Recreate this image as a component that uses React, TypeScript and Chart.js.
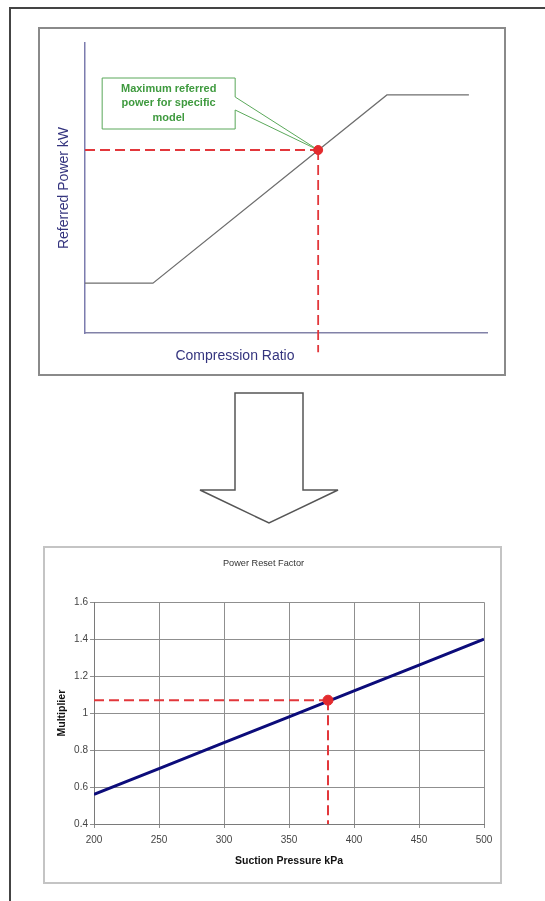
import React, { useEffect, useRef } from "react";
import { Chart, registerables } from "chart.js";
Chart.register(...registerables);

// ---------- Top (schematic) chart data ----------
const ratioX = [0, 1.69, 7.51, 9.55];
const referredPower = [1.72, 1.72, 8.21, 8.21];
const maxRatio = 5.8;
const maxPower = 6.31;
const topXRange = [0, 10];
const topYRange = [0, 10];
const dropBelowAxis = -0.66;
const calloutLines = ["Maximum referred", "power for specific", "model"];

// ---------- Bottom chart data ----------
const suctionKPa = [200, 250, 300, 350, 400, 450, 500];
const multiplier = [0.56, 0.7, 0.84, 0.98, 1.12, 1.26, 1.4];
const selectedKPa = 380;
const selectedMultiplier = 1.07;
const xTickValues = [200, 250, 300, 350, 400, 450, 500];
const yTickValues = [0.4, 0.6, 0.8, 1, 1.2, 1.4, 1.6];

const FONT = "'Liberation Sans', Arial, Helvetica, sans-serif";
const RED = "#e32b2e";
const RED_DASH = "#e2373b";

const calloutPlugin = {
  id: "callout",
  beforeDatasetsDraw(chart: any) {
    const pt = chart.getDatasetMeta(0).data[0];
    if (!pt) return;
    const { x, y } = pt;
    const ctx = chart.ctx;
    const left = x - 216, right = x - 83, top = y - 72, bottom = y - 21;
    const p1 = y - 53, p2 = y - 40;
    ctx.save();
    ctx.beginPath();
    ctx.moveTo(left, top);
    ctx.lineTo(right, top);
    ctx.lineTo(right, p1);
    ctx.lineTo(x, y);
    ctx.lineTo(right, p2);
    ctx.lineTo(right, bottom);
    ctx.lineTo(left, bottom);
    ctx.closePath();
    ctx.fillStyle = "#ffffff";
    ctx.fill();
    ctx.strokeStyle = "#5aa85a";
    ctx.lineWidth = 1;
    ctx.stroke();
    ctx.fillStyle = "#3f9a3f";
    ctx.font = `bold 11px ${FONT}`;
    ctx.textAlign = "center";
    ctx.textBaseline = "middle";
    const cx = (left + right) / 2;
    calloutLines.forEach((t, i) => ctx.fillText(t, cx, top + 10.5 + i * 14.5));
    ctx.restore();
  },
};

function TopChart() {
  const ref = useRef<HTMLCanvasElement>(null);
  useEffect(() => {
    const chart = new Chart(ref.current!, {
      type: "scatter",
      data: {
        datasets: [
          {
            data: [{ x: maxRatio, y: maxPower }],
            backgroundColor: RED,
            borderColor: RED,
            pointRadius: 4.5,
            showLine: false,
          },
          {
            data: ratioX.map((x, i) => ({ x, y: referredPower[i] })),
            borderColor: "#6e6e6e",
            borderWidth: 1.2,
            pointRadius: 0,
            showLine: true,
          },
          {
            data: [
              { x: topXRange[0], y: maxPower },
              { x: maxRatio, y: maxPower },
            ],
            borderColor: RED_DASH,
            borderWidth: 1.8,
            borderDash: [10, 5],
            pointRadius: 0,
            showLine: true,
          },
          {
            data: [
              { x: maxRatio, y: maxPower },
              { x: maxRatio, y: dropBelowAxis },
            ],
            borderColor: RED_DASH,
            borderWidth: 1.8,
            borderDash: [10, 5],
            pointRadius: 0,
            showLine: true,
            clip: false,
          } as any,
        ],
      },
      options: {
        responsive: false,
        animation: false,
        events: [],
        layout: { padding: { left: 0, top: 16, right: 19, bottom: 0 } },
        plugins: { legend: { display: false }, tooltip: { enabled: false } },
        scales: {
          x: {
            type: "linear",
            min: topXRange[0],
            max: topXRange[1],
            ticks: { display: false },
            grid: { display: false, drawTicks: false },
            border: { display: true, color: "#8282a8", width: 1.5 },
            afterFit: (s: any) => {
              s.height = 43;
            },
          },
          y: {
            type: "linear",
            min: topYRange[0],
            max: topYRange[1],
            ticks: { display: false },
            grid: { display: false, drawTicks: false },
            border: { display: true, color: "#7c7cae", width: 1.5 },
            title: {
              display: true,
              text: "Referred Power kW",
              color: "#34347e",
              font: { family: FONT, size: 14 },
              padding: { top: 17.6, bottom: 0 },
            },
            afterFit: (s: any) => {
              s.width = 47;
            },
          },
        },
      },
      plugins: [calloutPlugin],
    } as any);
    return () => chart.destroy();
  }, []);
  return <canvas ref={ref} width={468} height={349} style={{ position: "absolute", left: 38, top: 27 }} />;
}

function BottomChart() {
  const ref = useRef<HTMLCanvasElement>(null);
  useEffect(() => {
    const chart = new Chart(ref.current!, {
      type: "scatter",
      data: {
        datasets: [
          {
            data: [{ x: selectedKPa, y: selectedMultiplier }],
            backgroundColor: RED,
            borderColor: RED,
            pointRadius: 5,
            showLine: false,
          },
          {
            data: suctionKPa.map((x, i) => ({ x, y: multiplier[i] })),
            borderColor: "#0c0c7a",
            borderWidth: 3,
            pointRadius: 0,
            showLine: true,
          },
          {
            data: [
              { x: suctionKPa[0], y: selectedMultiplier },
              { x: selectedKPa, y: selectedMultiplier },
            ],
            borderColor: RED_DASH,
            borderWidth: 2,
            borderDash: [10, 5],
            pointRadius: 0,
            showLine: true,
          },
          {
            data: [
              { x: selectedKPa, y: selectedMultiplier },
              { x: selectedKPa, y: yTickValues[0] },
            ],
            borderColor: RED_DASH,
            borderWidth: 2,
            borderDash: [10, 5],
            pointRadius: 0,
            showLine: true,
          },
        ],
      },
      options: {
        responsive: false,
        animation: false,
        events: [],
        layout: { padding: { left: 0, top: 0, right: 18, bottom: 0 } },
        plugins: {
          legend: { display: false },
          tooltip: { enabled: false },
          title: {
            display: true,
            text: "Power Reset Factor",
            color: "#333333",
            font: { family: FONT, size: 9.2, weight: "normal" },
            padding: { top: 11.6, bottom: 33.6 },
          },
        },
        scales: {
          x: {
            type: "linear",
            min: xTickValues[0],
            max: xTickValues[xTickValues.length - 1],
            afterBuildTicks: (s: any) => {
              s.ticks = xTickValues.map((v) => ({ value: v }));
            },
            ticks: {
              color: "#444444",
              font: { family: FONT, size: 10 },
              padding: 6,
              maxRotation: 0,
              callback: (v: any) => String(v),
            },
            grid: { color: "#8f8f8f", lineWidth: 1, tickLength: 4, drawTicks: true },
            border: { display: true, color: "#7a7a7a", width: 1 },
            title: {
              display: true,
              text: "Suction Pressure kPa",
              color: "#111111",
              font: { family: FONT, size: 10.5, weight: "bold" },
              padding: { top: 0, bottom: 16.7 },
            },
            afterFit: (s: any) => {
              s.height = 60;
            },
          },
          y: {
            type: "linear",
            min: yTickValues[0],
            max: yTickValues[yTickValues.length - 1],
            afterBuildTicks: (s: any) => {
              s.ticks = yTickValues.map((v) => ({ value: v }));
            },
            ticks: {
              color: "#444444",
              font: { family: FONT, size: 10 },
              padding: 2,
              callback: (v: any) => String(v),
            },
            grid: { color: "#8f8f8f", lineWidth: 1, tickLength: 4, drawTicks: true },
            border: { display: true, color: "#7a7a7a", width: 1 },
            title: {
              display: true,
              text: "Multiplier",
              color: "#111111",
              font: { family: FONT, size: 10.5, weight: "bold" },
              padding: { top: 12.7, bottom: 0 },
            },
            afterFit: (s: any) => {
              s.width = 51;
            },
          },
        },
      },
    } as any);
    return () => chart.destroy();
  }, []);
  return <canvas ref={ref} width={459} height={338} style={{ position: "absolute", left: 43, top: 546 }} />;
}

export default function App() {
  return (
    <div
      style={{
        position: "absolute",
        left: 0,
        top: 0,
        width: 545,
        height: 901,
        background: "#ffffff",
        overflow: "hidden",
        fontFamily: FONT,
      }}
    >
      {/* outer frame */}
      <div
        style={{
          position: "absolute",
          left: 9,
          top: 7,
          width: 560,
          height: 920,
          borderLeft: "2px solid #444",
          borderTop: "2px solid #444",
          boxSizing: "border-box",
        }}
      />
      {/* top chart box */}
      <div
        style={{
          position: "absolute",
          left: 38,
          top: 27,
          width: 468,
          height: 349,
          border: "2px solid #8a8a8a",
          boxSizing: "border-box",
        }}
      />
      <TopChart />
      <div
        style={{
          position: "absolute",
          left: 235,
          top: 355,
          transform: "translate(-50%, -50%)",
          whiteSpace: "nowrap",
          fontSize: 14,
          color: "#34347e",
        }}
      >
        Compression Ratio
      </div>
      {/* arrow */}
      <svg width={545} height={901} style={{ position: "absolute", left: 0, top: 0, pointerEvents: "none" }}>
        <polygon
          points="235,393 303,393 303,490 338,490 269,523 200,490 235,490"
          fill="#ffffff"
          stroke="#555555"
          strokeWidth={1.5}
        />
      </svg>
      {/* bottom chart box */}
      <div
        style={{
          position: "absolute",
          left: 43,
          top: 546,
          width: 459,
          height: 338,
          border: "2px solid #c4c4c4",
          boxSizing: "border-box",
        }}
      />
      <BottomChart />
    </div>
  );
}
